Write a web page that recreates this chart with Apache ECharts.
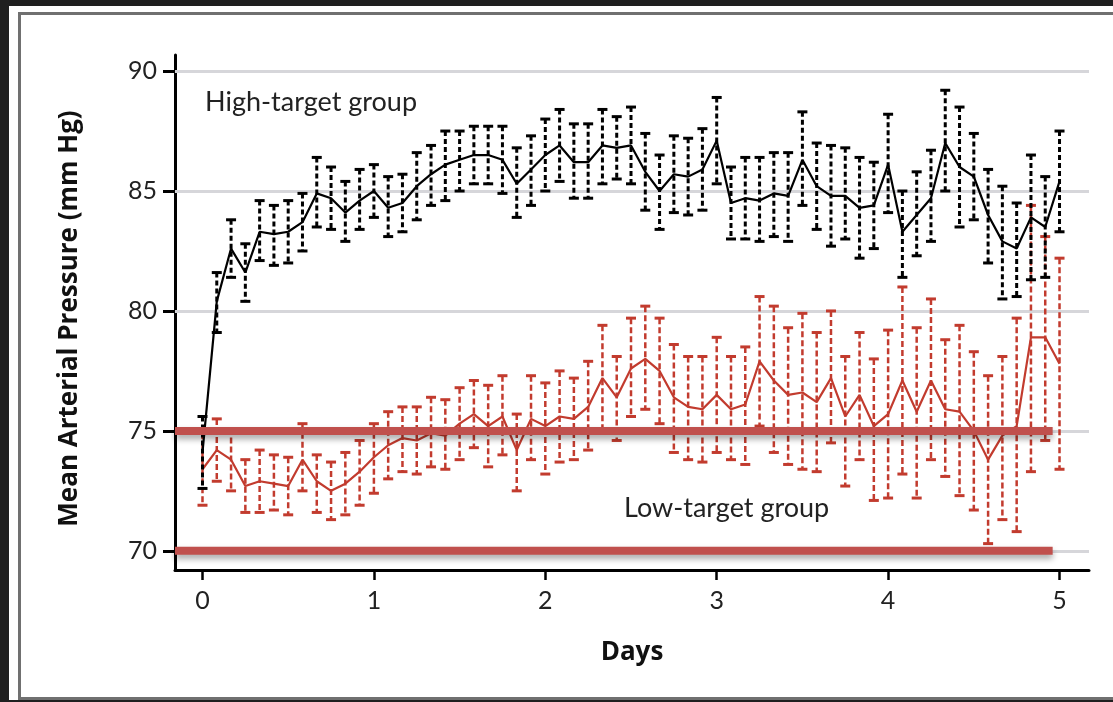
<!DOCTYPE html>
<html>
<head>
<meta charset="utf-8">
<script src="https://cdn.jsdelivr.net/npm/echarts@6/dist/echarts.min.js"></script>
<style>
  body { margin: 0; background: #1f1f1f; overflow: hidden; }
  #panel { position: absolute; left: 9px; top: 6px; width: 1104px; height: 694px; background: #fff; }
  #frame { position: absolute; left: 18px; top: 12px; width: 1200px; height: 682px; border: 3px solid #707070; }
  #main { position: absolute; left: 0; top: 0; width: 1113px; height: 702px; }
</style>
</head>
<body>
<div id="panel"></div>
<div id="frame"></div>
<div id="main"></div>
<script>
// hours since randomization, one reading every 2 hours
var hours = [0, 2, 4, 6, 8, 10, 12, 14, 16, 18, 20, 22,
  24, 26, 28, 30, 32, 34, 36, 38, 40, 42, 44, 46,
  48, 50, 52, 54, 56, 58, 60, 62, 64, 66, 68, 70,
  72, 74, 76, 78, 80, 82, 84, 86, 88, 90, 92, 94,
  96, 98, 100, 102, 104, 106, 108, 110, 112, 114, 116, 118, 120];

// high-target group: mean and error bar ends (mm Hg)
var highMean = [74.1, 80.4, 82.6, 81.6, 83.3, 83.2, 83.3, 83.7, 84.9, 84.7, 84.1, 84.6,
  85.0, 84.3, 84.5, 85.2, 85.7, 86.1, 86.3, 86.5, 86.5, 86.3, 85.3, 85.9,
  86.5, 86.9, 86.2, 86.2, 86.9, 86.8, 86.9, 85.8, 85.0, 85.7, 85.6, 85.9,
  87.1, 84.5, 84.7, 84.6, 84.9, 84.8, 86.3, 85.2, 84.8, 84.8, 84.3, 84.4,
  86.1, 83.3, 84.0, 84.7, 87.0, 86.0, 85.6, 84.0, 82.9, 82.6, 83.9, 83.5, 85.4];
var highLow = [72.6, 79.1, 81.4, 80.4, 82.1, 81.9, 82.0, 82.5, 83.5, 83.4, 82.9, 83.4,
  83.9, 83.1, 83.3, 83.8, 84.4, 84.6, 85.0, 85.3, 85.3, 84.9, 83.9, 84.4,
  85.0, 85.4, 84.7, 84.7, 85.3, 85.5, 85.3, 84.2, 83.4, 84.1, 84.0, 84.2,
  85.3, 83.0, 83.0, 82.9, 83.1, 82.9, 84.4, 83.4, 82.7, 83.0, 82.2, 82.6,
  84.1, 81.4, 82.3, 82.9, 85.0, 83.5, 83.8, 82.0, 80.5, 80.6, 81.3, 81.4, 83.3];
var highHigh = [75.6, 81.6, 83.8, 82.8, 84.6, 84.4, 84.6, 84.9, 86.4, 86.0, 85.4, 85.9,
  86.1, 85.6, 85.7, 86.6, 86.9, 87.5, 87.5, 87.7, 87.7, 87.7, 86.8, 87.3,
  88.0, 88.4, 87.8, 87.8, 88.4, 88.1, 88.5, 87.4, 86.5, 87.3, 87.2, 87.6,
  88.9, 86.0, 86.4, 86.4, 86.6, 86.6, 88.3, 87.0, 86.9, 86.8, 86.4, 86.2,
  88.2, 85.0, 85.8, 86.7, 89.2, 88.5, 87.4, 85.9, 85.2, 84.5, 86.5, 85.6, 87.5];

// low-target group
var lowMean = [73.4, 74.2, 73.8, 72.7, 72.9, 72.8, 72.7, 73.8, 72.9, 72.5, 72.8, 73.3,
  73.9, 74.4, 74.7, 74.6, 74.9, 74.8, 75.3, 75.7, 75.2, 75.6, 74.2, 75.5,
  75.2, 75.6, 75.5, 76.0, 77.2, 76.4, 77.6, 78.0, 77.5, 76.4, 76.0, 75.9,
  76.5, 75.9, 76.1, 77.9, 77.1, 76.5, 76.6, 76.2, 77.2, 75.6, 76.5, 75.2,
  75.7, 77.1, 75.8, 77.1, 75.9, 75.8, 75.0, 73.8, 74.8, 75.2, 78.9, 78.9, 77.8];
var lowLow = [71.9, 72.9, 72.5, 71.6, 71.6, 71.7, 71.5, 72.5, 71.6, 71.3, 71.5, 71.9,
  72.4, 73.0, 73.3, 73.2, 73.5, 73.4, 73.8, 74.3, 73.5, 74.0, 72.5, 73.8,
  73.2, 73.7, 73.8, 74.2, 75.0, 74.6, 75.6, 75.9, 75.3, 74.1, 73.8, 73.7,
  74.1, 73.8, 73.6, 75.2, 74.1, 73.6, 73.4, 73.3, 74.5, 72.7, 73.8, 72.1,
  72.2, 73.2, 72.2, 73.8, 73.1, 72.3, 71.7, 70.3, 71.3, 70.8, 73.3, 74.6, 73.4];
var lowHigh = [74.9, 75.5, 75.1, 73.8, 74.2, 74.0, 73.9, 75.3, 74.0, 73.7, 74.1, 74.6,
  75.3, 75.8, 76.0, 76.0, 76.4, 76.3, 76.8, 77.1, 76.9, 77.3, 75.7, 77.3,
  77.0, 77.5, 77.2, 77.9, 79.4, 78.1, 79.7, 80.2, 79.7, 78.6, 78.1, 78.1,
  78.9, 78.1, 78.5, 80.6, 80.2, 79.3, 79.9, 79.1, 80.0, 78.1, 79.1, 78.0,
  79.2, 81.0, 79.3, 80.5, 78.8, 79.4, 78.3, 77.3, 78.1, 79.7, 84.4, 83.1, 82.2];

// target ranges drawn as thick bars, and axis ticks
var targetLevels = [75, 70];
var targetEndDay = 4.96;
var xTicks = [0, 1, 2, 3, 4, 5];
var yTicks = [70, 75, 80, 85, 90];

var X_MIN = -0.1604, X_MAX = 5.172;
var Y_MIN = 69.2, Y_MAX = 90.67;
var FONT = 'Lato';
var TITLE_FONT = 'Open Sans';
var RED = '#c23b2e';
var BAR_RED = '#c0504d';

function days(i) { return hours[i] / 24; }

function errorBars(name, low, high, color, width, dash, z) {
  return {
    name: name,
    type: 'custom',
    z: z,
    silent: true,
    data: hours.map(function (h, i) { return [days(i), low[i], high[i]]; }),
    encode: { x: 0, y: [1, 2] },
    renderItem: function (params, api) {
      var x = api.value(0);
      var lo = api.coord([x, api.value(1)]);
      var hi = api.coord([x, api.value(2)]);
      var cap = 5;
      return {
        type: 'group',
        children: [
          { type: 'line', shape: { x1: hi[0], y1: hi[1], x2: lo[0], y2: lo[1] },
            style: { stroke: color, lineWidth: width, lineDash: dash } },
          { type: 'line', shape: { x1: hi[0] - cap, y1: hi[1], x2: hi[0] + cap, y2: hi[1] },
            style: { stroke: color, lineWidth: 3 } },
          { type: 'line', shape: { x1: lo[0] - cap, y1: lo[1], x2: lo[0] + cap, y2: lo[1] },
            style: { stroke: color, lineWidth: 3 } }
        ]
      };
    }
  };
}

function meanLine(name, values, color, z) {
  return {
    name: name,
    type: 'line',
    z: z,
    silent: true,
    symbol: 'none',
    data: values.map(function (v, i) { return [days(i), v]; }),
    lineStyle: { color: color, width: 2.2 }
  };
}

var series = [
  {
    name: 'grid',
    type: 'line',
    data: [],
    z: 1,
    markLine: {
      silent: true,
      symbol: 'none',
      z: 1,
      label: { show: false },
      lineStyle: { color: '#d6d6da', width: 3, type: 'solid' },
      data: yTicks.map(function (v) { return { yAxis: v }; })
    }
  },
  errorBars('low-target bars', lowLow, lowHigh, RED, 2.5, [6, 3], 3),
  meanLine('Low-target group', lowMean, RED, 4),
  errorBars('high-target bars', highLow, highHigh, '#000', 3, [5, 3], 5),
  meanLine('High-target group', highMean, '#000', 6)
];

targetLevels.forEach(function (lvl) {
  series.push({
    name: 'target ' + lvl,
    type: 'line',
    z: 8,
    silent: true,
    symbol: 'none',
    data: [[X_MIN, lvl], [targetEndDay, lvl]],
    lineStyle: {
      color: BAR_RED, width: 8, cap: 'butt',
      shadowColor: 'rgba(0,0,0,0.35)', shadowBlur: 6, shadowOffsetY: 4
    }
  });
});

var chart = echarts.init(document.getElementById('main'));
chart.setOption({
  animation: false,
  backgroundColor: 'transparent',
  grid: { left: 175, right: 24, top: 55, bottom: 132 },
  xAxis: {
    type: 'value',
    min: X_MIN,
    max: X_MAX,
    name: 'Days',
    nameLocation: 'middle',
    nameGap: 70,
    nameTextStyle: { fontFamily: TITLE_FONT, fontWeight: 'bold', fontSize: 26, color: '#111' },
    axisLine: { onZero: false, lineStyle: { color: '#000', width: 3 } },
    axisTick: { customValues: xTicks, length: 10, lineStyle: { color: '#000', width: 2.5 } },
    axisLabel: { customValues: xTicks, margin: 18, fontFamily: FONT, fontSize: 25, color: '#222' },
    splitLine: { show: false }
  },
  yAxis: {
    type: 'value',
    min: Y_MIN,
    max: Y_MAX,
    name: 'Mean Arterial Pressure (mm Hg)',
    nameLocation: 'middle',
    nameRotate: 90,
    nameGap: 92,
    nameTextStyle: { fontFamily: TITLE_FONT, fontWeight: 'bold', fontSize: 26, color: '#111', padding: [0, 12, 0, 0] },
    axisLine: { onZero: false, lineStyle: { color: '#000', width: 3 } },
    axisTick: { customValues: yTicks, length: 12, lineStyle: { color: '#000', width: 3 } },
    axisLabel: { customValues: yTicks, margin: 18, fontFamily: FONT, fontSize: 25, color: '#222' },
    splitLine: { show: false }
  },
  graphic: [
    { type: 'text', left: 205, top: 89, silent: true,
      style: { text: 'High-target group', fontFamily: FONT, fontSize: 27, fill: '#222' } },
    { type: 'text', left: 624, top: 495, silent: true,
      style: { text: 'Low-target group', fontFamily: FONT, fontSize: 27, fill: '#222' } }
  ],
  series: series
});
</script>
</body>
</html>
